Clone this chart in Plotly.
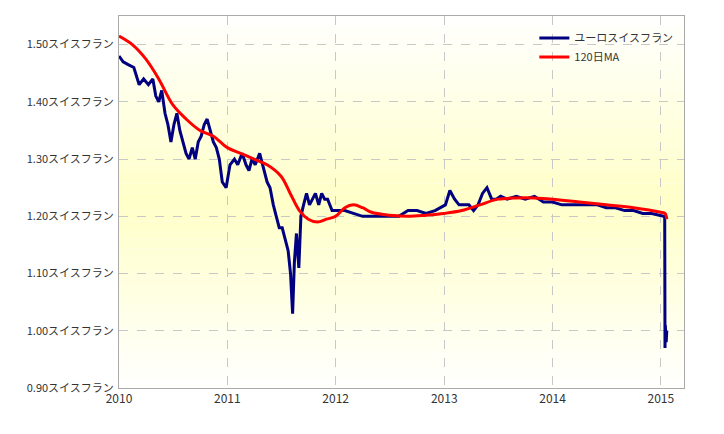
import plotly.graph_objects as go

# EUR/CHF rate
rate_dates = ['2010-01-01', '2010-01-15', '2010-02-01', '2010-02-20', '2010-03-10', '2010-03-25', '2010-04-10',
              '2010-04-25', '2010-05-05', '2010-05-15', '2010-05-25', '2010-06-05', '2010-06-15', '2010-06-25',
              '2010-07-05', '2010-07-15', '2010-07-25', '2010-08-05', '2010-08-15', '2010-08-25', '2010-09-05',
              '2010-09-15', '2010-09-25', '2010-10-05', '2010-10-15', '2010-10-25', '2010-11-05', '2010-11-15',
              '2010-11-25', '2010-12-05', '2010-12-15', '2010-12-28', '2011-01-10', '2011-01-25', '2011-02-05',
              '2011-02-20', '2011-03-05', '2011-03-15', '2011-03-25', '2011-04-05', '2011-04-20', '2011-05-05',
              '2011-05-15', '2011-05-25', '2011-06-05', '2011-06-15', '2011-06-25', '2011-07-05', '2011-07-15',
              '2011-07-25', '2011-08-02', '2011-08-09', '2011-08-15', '2011-08-22', '2011-08-30', '2011-09-06',
              '2011-09-15', '2011-09-25', '2011-10-05', '2011-10-15', '2011-10-25', '2011-11-05', '2011-11-15',
              '2011-11-25', '2011-12-05', '2011-12-20', '2012-01-10', '2012-02-01', '2012-03-01', '2012-04-01',
              '2012-05-01', '2012-06-01', '2012-07-01', '2012-08-01', '2012-09-01', '2012-10-01', '2012-11-01',
              '2012-12-01', '2013-01-05', '2013-01-20', '2013-02-05', '2013-02-20', '2013-03-10', '2013-03-25',
              '2013-04-10', '2013-04-25', '2013-05-10', '2013-05-25', '2013-06-10', '2013-06-25', '2013-07-10',
              '2013-08-01', '2013-09-01', '2013-10-01', '2013-11-01', '2013-12-01', '2014-01-01', '2014-02-01',
              '2014-03-01', '2014-04-01', '2014-05-01', '2014-06-01', '2014-07-01', '2014-08-01', '2014-09-01',
              '2014-10-01', '2014-11-01', '2014-12-01', '2015-01-10', '2015-01-14', '2015-01-15', '2015-01-16',
              '2015-01-19', '2015-01-21']
rate_values = [1.48, 1.47, 1.465, 1.46, 1.43, 1.44, 1.43, 1.44, 1.41, 1.40, 1.42, 1.38, 1.36, 1.33,
               1.36, 1.38, 1.35, 1.33, 1.31, 1.30, 1.32, 1.30, 1.33, 1.34, 1.36, 1.37, 1.35, 1.33,
               1.32, 1.30, 1.26, 1.25, 1.29, 1.30, 1.29, 1.31, 1.29, 1.28, 1.30, 1.29, 1.31, 1.28,
               1.26, 1.25, 1.22, 1.20, 1.18, 1.18, 1.16, 1.14, 1.10, 1.03, 1.12, 1.17, 1.11, 1.20,
               1.22, 1.24, 1.22, 1.23, 1.24, 1.22, 1.24, 1.23, 1.23, 1.21, 1.21, 1.21, 1.205, 1.20,
               1.20, 1.20, 1.20, 1.20, 1.21, 1.21, 1.205, 1.21, 1.22, 1.245, 1.23, 1.22, 1.22, 1.22,
               1.21, 1.22, 1.24, 1.25, 1.23, 1.23, 1.235, 1.23, 1.235, 1.23, 1.235, 1.225, 1.225, 1.22,
               1.22, 1.22, 1.22, 1.22, 1.215, 1.215, 1.21, 1.21, 1.205, 1.205, 1.20, 1.20, 0.97, 1.01,
               0.98, 1.00]

# 120-day moving average
ma_dates = ['2010-01-01', '2010-02-15', '2010-04-01', '2010-05-15', '2010-07-01', '2010-08-15', '2010-10-01',
            '2010-11-15', '2011-01-01', '2011-02-15', '2011-04-01', '2011-05-15', '2011-07-01', '2011-08-01',
            '2011-09-01', '2011-10-01', '2011-11-01', '2011-12-01', '2012-01-01', '2012-02-01', '2012-03-01',
            '2012-04-01', '2012-05-01', '2012-07-01', '2012-09-01', '2012-11-01', '2013-01-01', '2013-03-01',
            '2013-05-01', '2013-07-01', '2013-09-01', '2013-11-01', '2014-01-01', '2014-04-01', '2014-07-01',
            '2014-10-01', '2015-01-01', '2015-01-15', '2015-01-21']
ma_values = [1.515, 1.50, 1.475, 1.44, 1.395, 1.37, 1.35, 1.34, 1.32, 1.31, 1.30, 1.29, 1.27, 1.24,
             1.21, 1.195, 1.19, 1.195, 1.20, 1.215, 1.22, 1.215, 1.207, 1.202, 1.20, 1.202, 1.205, 1.21,
             1.22, 1.23, 1.232, 1.232, 1.23, 1.225, 1.22, 1.215, 1.207, 1.205, 1.195]

y_ticks = [0.9, 1.0, 1.1, 1.2, 1.3, 1.4, 1.5]
y_labels = ['%.2fスイスフラン' % v for v in y_ticks]
x_ticks = ['2010-01-01', '2011-01-01', '2012-01-01', '2013-01-01', '2014-01-01', '2015-01-01']
x_labels = ['2010', '2011', '2012', '2013', '2014', '2015']

fig = go.Figure()
fig.add_trace(go.Scatter(x=rate_dates, y=rate_values, mode='lines', name='ユーロスイスフラン',
                         line=dict(color='#000080', width=3)))
fig.add_trace(go.Scatter(x=ma_dates, y=ma_values, mode='lines', name='120日MA',
                         line=dict(color='#ff0000', width=3, shape='spline')))

# soft yellow gradient behind the plot
n = 40
for i in range(n):
    t = (i + 0.5) / n
    k = max(0.0, 1 - abs(t - 0.5) / 0.5)
    b = int(255 - 55 * k)
    fig.add_shape(type='rect', xref='paper', yref='paper', x0=0, x1=1, y0=i / n, y1=(i + 1) / n,
                  fillcolor='rgb(255,255,%d)' % b, line_width=0, layer='below')

fig.update_layout(
    width=724, height=434,
    margin=dict(l=111, r=48, t=8, b=54),
    paper_bgcolor='white', plot_bgcolor='white',
    font=dict(family='Noto Sans CJK JP', size=11, color='#333333'),
    legend=dict(x=0.99, y=0.98, xanchor='right', yanchor='top', bgcolor='rgba(0,0,0,0)',
                font=dict(size=11), tracegroupgap=2),
    xaxis=dict(range=['2010-01-01', '2015-03-20'], tickvals=x_ticks, ticktext=x_labels,
               showgrid=True, gridcolor='#c8c8c8', griddash='dash', showline=True, linecolor='#aaaaaa',
               mirror=True, ticks='', zeroline=False, automargin=False, tickfont=dict(size=12)),
    yaxis=dict(range=[0.9, 1.55], tickvals=y_ticks, ticktext=y_labels,
               showgrid=True, gridcolor='#c8c8c8', griddash='dash', showline=True, linecolor='#aaaaaa',
               mirror=True, ticks='', zeroline=False, automargin=False, ticklabelstandoff=2),
)
fig.write_html('out.html')
